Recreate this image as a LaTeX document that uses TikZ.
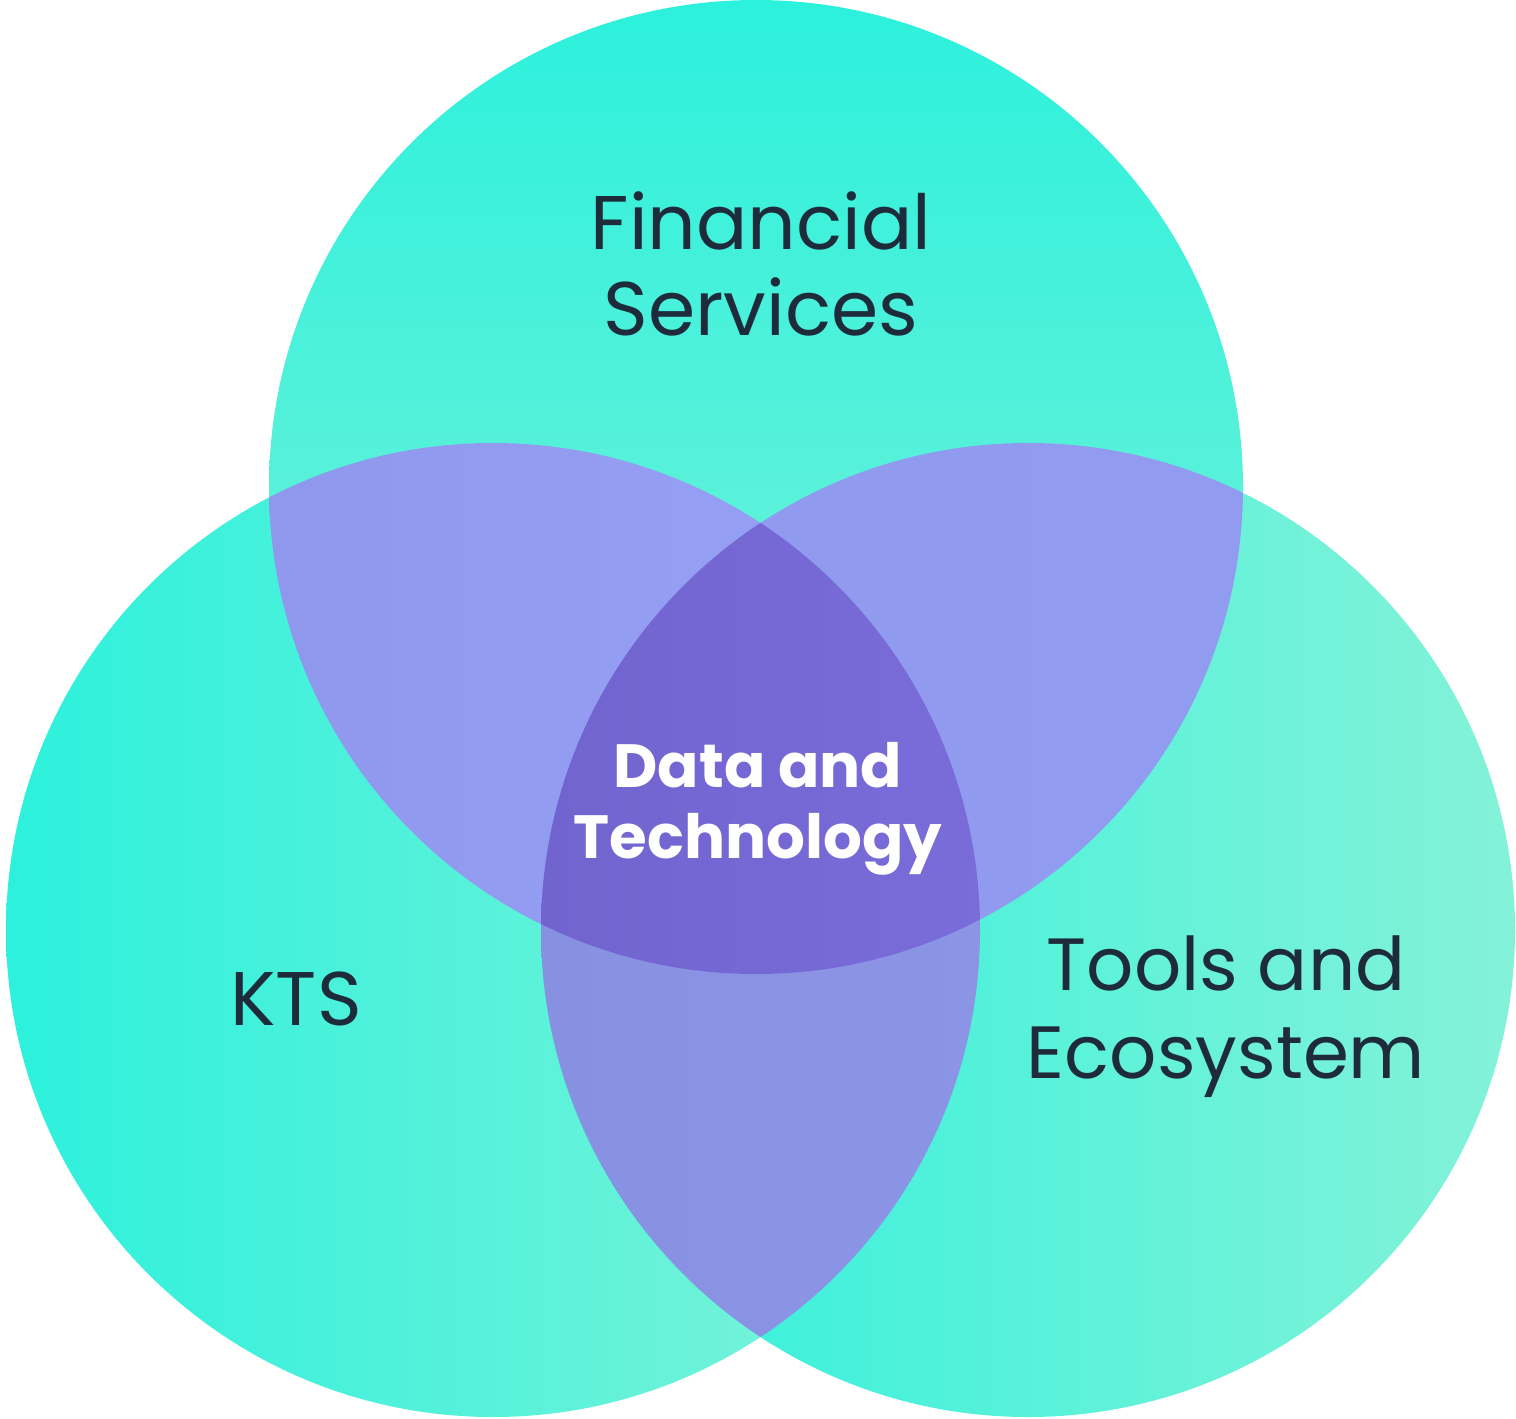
\documentclass[tikz,border=0pt]{standalone}
\usepackage{fontspec}
\setmainfont{Poppins}
\definecolor{tealA}{HTML}{2CF1DC}
\definecolor{tealB}{HTML}{84F2D8}
\definecolor{txt}{HTML}{1E2B3A}
\definecolor{tlA}{HTML}{8C94E8}
\definecolor{tlB}{HTML}{97A2F7}
\definecolor{trA}{HTML}{9099EE}
\definecolor{trB}{HTML}{919CF1}
\definecolor{btA}{HTML}{8891E1}
\definecolor{btB}{HTML}{8E98EB}
\definecolor{ctA}{HTML}{7264CF}
\definecolor{ctB}{HTML}{8376E5}
\tikzset{
  lbl/.style={text=txt, align=center, font=\fontsize{76}{86}\selectfont, inner sep=0pt},
  lbls/.style={lbl, font=\fontsize{74}{88}\selectfont},
  core/.style={text=white, align=center, font=\bfseries\fontsize{61}{71}\selectfont, inner sep=0pt}
}
\begin{document}
\begin{tikzpicture}[x=1pt,y=-1pt]
\useasboundingbox (0,0) rectangle (1516,1419);
\def\R{487}
\coordinate (T) at (756,487);
\coordinate (L) at (493,930);
\coordinate (Rc) at (1028,930);
% circles
\shade[top color=tealA, bottom color=tealB] (T) circle[radius=\R];
\shade[left color=tealA, right color=tealB] (L) circle[radius=\R];
\shade[left color=tealA, right color=tealB] (Rc) circle[radius=\R];
% pairwise lenses
\begin{scope}
  \clip (T) circle[radius=\R];
  \shade[left color=tlA, right color=tlB] (L) circle[radius=\R];
\end{scope}
\begin{scope}
  \clip (T) circle[radius=\R];
  \shade[left color=trA, right color=trB] (Rc) circle[radius=\R];
\end{scope}
\begin{scope}
  \clip (L) circle[radius=\R];
  \shade[left color=btA, right color=btB] (Rc) circle[radius=\R];
\end{scope}
% centre
\begin{scope}
  \clip (T) circle[radius=\R];
  \clip (L) circle[radius=\R];
  \shade[left color=ctA, right color=ctB] (Rc) circle[radius=\R];
\end{scope}
% labels (base anchor = baseline of last line)
\node[lbl, anchor=base] (fin) at (761,335) {Financial\\Services};
\node[lbls, anchor=base] (tools) at (1226,1078) {Tools and\\Ecosystem};
\node[lbl, anchor=base] (kts) at (296,1025) {KTS};
\node[core, anchor=base] (data) at (758,858) {Data and\\Technology};
\end{tikzpicture}
\end{document}
